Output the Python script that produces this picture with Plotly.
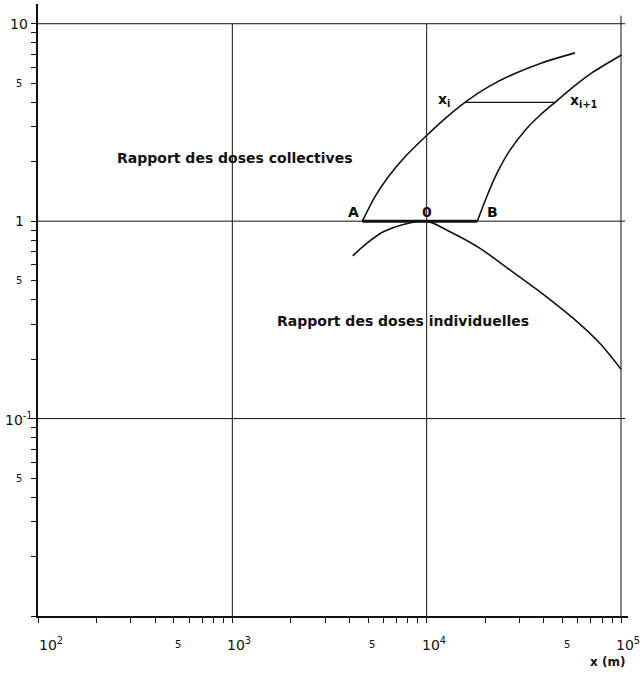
import numpy as np
import plotly.graph_objects as go

# Collective-dose ratio curve (distance in m, ratio)
collective_x = [4670, 5420, 6350, 7740, 9810, 12430, 15750, 20760, 28480, 39080, 58000]
collective_y = [1.00, 1.33, 1.68, 2.12, 2.67, 3.31, 4.00, 4.79, 5.60, 6.33, 7.12]

# Same curve shifted along x (starting at B)
shifted_x = [18220, 20370, 22940, 26840, 32720, 38300, 45760, 56840, 72030, 100500]
shifted_y = [1.00, 1.33, 1.74, 2.29, 2.95, 3.44, 4.00, 4.79, 5.70, 6.95]

# Individual-dose ratio curve
individual_x = [4165, 4913, 5983, 7581, 10000, 13190, 18820, 25820, 38300, 56840, 77980, 100000]
individual_y = [0.667, 0.771, 0.883, 0.962, 1.000, 0.883, 0.728, 0.582, 0.4385, 0.3215, 0.240, 0.178]

# Segment A-B along ratio 1, and step x_i -> x_{i+1}
ab_x = [4670, 18220]
ab_y = [1.0, 1.0]
step_x = [15750, 45760]
step_y = [4.0, 4.0]

# Axis labels
x_label_vals = [100, 500, 1000, 5000, 10000, 50000, 100000]
x_label_text = ["10<sup>2</sup>", "5", "10<sup>3</sup>", "5", "10<sup>4</sup>", "5", "10<sup>5</sup>"]
y_label_vals = [10, 5, 1, 0.5, 0.1, 0.05]
y_label_text = ["10", "5", "1", "5", "10<sup>-1</sup>", "5"]

x_decades = [100, 1000, 10000, 100000]
y_decades = [0.01, 0.1, 1, 10]

FONT = "DejaVu Sans"
INK = "#111111"

fig = go.Figure()

# decade grid
for xv in x_decades[1:]:
    top = 11 if xv == x_decades[-1] else y_decades[-1]
    fig.add_trace(go.Scatter(x=[xv, xv], y=[y_decades[0], top], mode="lines",
                             line=dict(color=INK, width=1), hoverinfo="skip"))
for yv in y_decades[1:]:
    fig.add_trace(go.Scatter(x=[x_decades[0], 105000], y=[yv, yv], mode="lines",
                             line=dict(color=INK, width=1), hoverinfo="skip"))

curve = dict(color=INK, width=1.6, shape="spline", smoothing=0.8)
fig.add_trace(go.Scatter(x=collective_x, y=collective_y, mode="lines", line=curve))
fig.add_trace(go.Scatter(x=shifted_x, y=shifted_y, mode="lines", line=curve))
fig.add_trace(go.Scatter(x=individual_x, y=individual_y, mode="lines", line=curve))
fig.add_trace(go.Scatter(x=ab_x, y=ab_y, mode="lines", line=dict(color=INK, width=3)))
fig.add_trace(go.Scatter(x=step_x, y=step_y, mode="lines", line=dict(color=INK, width=1.3)))

ticks_x = [k * 10 ** e for e in (2, 3, 4) for k in range(1, 10)] + [100000]
ticks_y = [k * 10 ** e for e in (-2, -1, 0) for k in range(1, 10)] + [10]

axis_common = dict(showgrid=False, zeroline=False, showline=True, linecolor=INK,
                   linewidth=1.5, ticks="outside", ticklen=5, tickwidth=1.2,
                   tickcolor=INK, showticklabels=False, automargin=False,
                   tickmode="array")
fig.update_xaxes(type="log", range=[2, 5.036], tickvals=ticks_x, **axis_common)
fig.update_yaxes(type="log", range=[-2, 1.1], tickvals=ticks_y, **axis_common)

ann = []
for v, t in zip(x_label_vals, x_label_text):
    big = t != "5"
    ann.append(dict(x=np.log10(v), xref="x", y=0, yref="paper", text=t,
                    showarrow=False, yanchor="middle", yshift=-28,
                    xanchor="left" if big else "center",
                    xshift=(-1 if v == x_label_vals[0] else -7) if big else 4,
                    font=dict(family=FONT, size=14 if big else 10, color=INK)))
for v, t in zip(y_label_vals, y_label_text):
    big = t != "5"
    ann.append(dict(x=0, xref="paper", xshift=-19, y=np.log10(v), yref="y", text=t,
                    showarrow=False, xanchor="center", yanchor="middle",
                    font=dict(family=FONT, size=14 if big else 10, color=INK)))

ann.append(dict(x=1, xref="paper", xshift=-21, y=0, yref="paper", yshift=-46,
                text="x (m)", showarrow=False, xanchor="center", yanchor="middle",
                font=dict(family=FONT, size=12, color=INK, weight="bold")))

label_font = dict(family=FONT, size=14, color=INK, weight="bold")
ann.append(dict(x=np.log10(250), y=np.log10(2.1), text="Rapport des doses collectives",
                showarrow=False, xanchor="left", yanchor="middle", font=label_font))
ann.append(dict(x=np.log10(1660), y=np.log10(0.312), text="Rapport des doses individuelles",
                showarrow=False, xanchor="left", yanchor="middle", font=label_font))

point_font = dict(family=FONT, size=14, color=INK, weight="bold")
ann.append(dict(x=np.log10(ab_x[0]), y=0, text="A", showarrow=False,
                xanchor="center", yanchor="middle", xshift=-9, yshift=9, font=point_font))
ann.append(dict(x=np.log10(10000), y=0, text="0", showarrow=False,
                xanchor="center", yanchor="middle", xshift=0, yshift=9, font=point_font))
ann.append(dict(x=np.log10(ab_x[1]), y=0, text="B", showarrow=False,
                xanchor="center", yanchor="middle", xshift=15, yshift=9, font=point_font))
ann.append(dict(x=np.log10(step_x[0]), y=np.log10(step_y[0]), text="x<sub>i</sub>",
                showarrow=False, xanchor="center", yanchor="middle", xshift=-21, yshift=2,
                font=point_font))
ann.append(dict(x=np.log10(step_x[1]), y=np.log10(step_y[1]), text="x<sub>i+1</sub>",
                showarrow=False, xanchor="left", yanchor="middle", xshift=13, yshift=1,
                font=point_font))

fig.update_layout(width=641, height=674, margin=dict(l=38, r=13, t=4, b=58),
                  paper_bgcolor="white", plot_bgcolor="white", showlegend=False,
                  annotations=ann)

fig.write_html("out.html")
